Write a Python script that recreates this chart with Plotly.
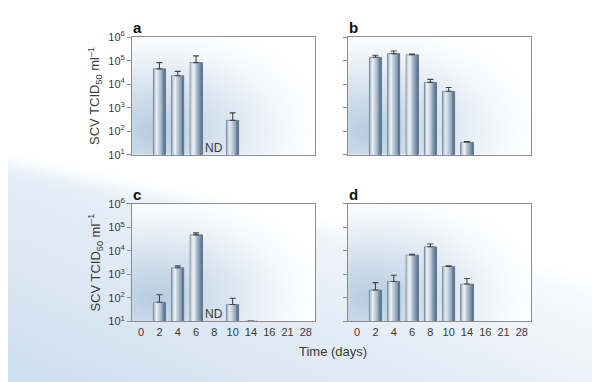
import base64
import plotly.graph_objects as go

# ---------------- data ----------------
days = ["0", "2", "4", "6", "8", "10", "14", "16", "21", "28"]
panel_names = ["a", "b", "c", "d"]

a_vals = [None, 4.5e4, 2.3e4, 8.3e4, None, 290, None, None, None, None]
a_high = [None, 8.3e4, 3.5e4, 1.6e5, None, 600, None, None, None, None]
b_vals = [None, 1.4e5, 2.0e5, 1.8e5, 1.2e4, 5.0e3, 34, None, None, None]
b_high = [None, 1.7e5, 2.6e5, 1.9e5, 1.6e4, 7.2e3, 36, None, None, None]
c_vals = [None, 65, 1.9e3, 4.8e4, None, 52, 10.4, None, None, None]
c_high = [None, 135, 2.3e3, 5.8e4, None, 97, None, None, None, None]
d_vals = [None, 215, 500, 6.7e3, 1.5e4, 2.15e3, 390, None, None, None]
d_high = [None, 445, 920, 7.1e3, 1.95e4, 2.3e3, 670, None, None, None]

nd_panels = ["a", "c"]
nd_day = "8"

y_tick_vals = [1e1, 1e2, 1e3, 1e4, 1e5, 1e6]
y_tick_text = ["10<sup>1</sup>", "10<sup>2</sup>", "10<sup>3</sup>",
               "10<sup>4</sup>", "10<sup>5</sup>", "10<sup>6</sup>"]

series = {"a": (a_vals, a_high), "b": (b_vals, b_high),
          "c": (c_vals, c_high), "d": (d_vals, d_high)}

# ---------------- style ----------------
W, H = 600, 382
FONT = "Liberation Sans, Arial, sans-serif"
TXT = "#3a3a3a"
AXC = "#8c8c8c"
# pixel boxes of the plot areas (left, right, top, bottom)
boxes = {"a": (124, 307, 22, 144), "b": (340, 523, 22, 144),
         "c": (124, 307, 195, 317), "d": (340, 523, 195, 317)}

bar_w = 0.66
stripe_stops = [(0.0, (0x80, 0x93, 0xa8)), (0.12, (0xbf, 0xcb, 0xd8)),
                (0.3, (0xf0, 0xf3, 0xf7)), (0.5, (0xc6, 0xd1, 0xdc)),
                (0.75, (0x8f, 0xa5, 0xbb)), (1.0, (0x55, 0x6f, 0x8a))]
n_stripes = 14


def stripe_color(t):
    for (t0, c0), (t1, c1) in zip(stripe_stops[:-1], stripe_stops[1:]):
        if t0 <= t <= t1:
            f = (t - t0) / (t1 - t0)
            c = [round(c0[k] + (c1[k] - c0[k]) * f) for k in range(3)]
            return "rgb(%d,%d,%d)" % tuple(c)
    return "rgb(%d,%d,%d)" % stripe_stops[-1][1]


def svg_uri(svg):
    return "data:image/svg+xml;base64," + base64.b64encode(svg.encode()).decode()


page_svg = f"""<svg xmlns='http://www.w3.org/2000/svg' width='{W}' height='{H}' viewBox='0 0 {W} {H}'>
<defs>
<linearGradient id='g' x1='0' y1='1' x2='1' y2='0.1'>
<stop offset='0' stop-color='#c9dbed'/>
<stop offset='0.5' stop-color='#e4edf6'/>
<stop offset='0.85' stop-color='#ffffff'/>
</linearGradient>
<filter id='f' x='-10%' y='-10%' width='120%' height='120%'><feGaussianBlur stdDeviation='7'/></filter>
</defs>
<rect width='{W}' height='{H}' fill='#ffffff'/>
<polygon points='-20,150 620,285 620,420 -20,420' fill='url(#g)' filter='url(#f)'/>
</svg>"""

panel_svg = """<svg xmlns='http://www.w3.org/2000/svg' width='183' height='122' viewBox='0 0 183 122' preserveAspectRatio='none'>
<defs>
<radialGradient id='r' cx='0.12' cy='0.8' r='0.95'>
<stop offset='0' stop-color='#b7cce0'/>
<stop offset='0.35' stop-color='#d3e0ed'/>
<stop offset='0.75' stop-color='#f5f8fb'/>
<stop offset='1' stop-color='#ffffff'/>
</radialGradient>
</defs>
<rect width='183' height='122' fill='url(#r)'/>
</svg>"""

fig = go.Figure()

xs = list(range(len(days)))
images = [dict(source=svg_uri(page_svg), xref="paper", yref="paper", x=0, y=1,
               sizex=1, sizey=1, sizing="stretch", layer="below")]
annotations = []

for i, p in enumerate(panel_names):
    ax_id = "" if i == 0 else str(i + 1)
    xref, yref = "x" + ax_id, "y" + ax_id
    vals, high = series[p]
    bx = [x for x, v in zip(xs, vals) if v is not None]
    bv = [v for v in vals if v is not None]
    bh = [h for h, v in zip(high, vals) if v is not None]
    err = [(h - v) if h is not None else 0 for h, v in zip(bh, bv)]
    sw = bar_w / n_stripes
    for s in range(n_stripes):
        t = (s + 0.5) / n_stripes
        fig.add_trace(go.Bar(x=bx, y=bv, xaxis=xref, yaxis=yref,
                             width=sw * 1.25, offset=-bar_w / 2 + s * sw,
                             marker=dict(color=stripe_color(t), line=dict(width=0)),
                             hoverinfo="skip", showlegend=False))
    fig.add_trace(go.Bar(x=bx, y=bv, xaxis=xref, yaxis=yref,
                         width=bar_w, offset=-bar_w / 2,
                         marker=dict(color="rgba(0,0,0,0)",
                                     line=dict(color="#6a7f94", width=0.6)),
                         error_y=dict(type="data", array=err, arrayminus=[0] * len(err),
                                      symmetric=False, color="#444444",
                                      thickness=1.1, width=3),
                         showlegend=False))

    l, r, t_, b = boxes[p]
    xdom = [l / W, r / W]
    ydom = [1 - b / H, 1 - t_ / H]
    bottom_row = p in ("c", "d")
    fig.update_layout(**{
        "xaxis" + ax_id: dict(domain=xdom, anchor=yref, range=[-0.5, len(days) - 0.5],
                              tickvals=xs, ticktext=days, showticklabels=bottom_row,
                              ticks="", showgrid=False, zeroline=False,
                              showline=True, linecolor=AXC, linewidth=1, mirror=True,
                              tickfont=dict(family=FONT, size=11, color=TXT)),
        "yaxis" + ax_id: dict(domain=ydom, anchor=xref, type="log", range=[1, 6],
                              tickvals=y_tick_vals, ticktext=y_tick_text,
                              showticklabels=p in ("a", "c"),
                              ticks="outside", ticklen=4, tickcolor=AXC, tickwidth=1,
                              showgrid=False, zeroline=False,
                              showline=True, linecolor=AXC, linewidth=1, mirror=True,
                              tickfont=dict(family=FONT, size=11, color=TXT)),
    })
    images.append(dict(source=svg_uri(panel_svg), xref="paper", yref="paper",
                       x=xdom[0], y=ydom[1], sizex=xdom[1] - xdom[0],
                       sizey=ydom[1] - ydom[0], sizing="stretch", layer="below"))
    annotations.append(dict(text="<b>%s</b>" % p, xref="paper", yref="paper",
                            x=(l - 1) / W, y=1 - (t_ - 10) / H, xanchor="left",
                            yanchor="middle", showarrow=False,
                            font=dict(family=FONT, size=15, color="#111111")))
    if p in nd_panels:
        annotations.append(dict(text="ND", xref=xref, yref=yref, x=days.index(nd_day),
                                y=1.3, showarrow=False, xanchor="center", yanchor="middle",
                                font=dict(family=FONT, size=12, color=TXT)))
    if p in ("a", "c"):
        annotations.append(dict(text="SCV TCID<sub>50</sub> ml<sup>–1</sup>",
                                xref="paper", yref="paper", x=87 / W,
                                y=1 - ((t_ + b) / 2) / H, textangle=-90,
                                xanchor="center", yanchor="middle", showarrow=False,
                                font=dict(family=FONT, size=13, color=TXT)))

annotations.append(dict(text="Time (days)", xref="paper", yref="paper",
                        x=325 / W, y=1 - 348 / H, showarrow=False,
                        xanchor="center", yanchor="middle",
                        font=dict(family=FONT, size=13, color=TXT)))

fig.update_layout(width=W, height=H, margin=dict(l=0, r=0, t=0, b=0),
                  paper_bgcolor="white", plot_bgcolor="rgba(0,0,0,0)",
                  barmode="overlay", images=images, annotations=annotations,
                  showlegend=False)

fig.write_html("out.html")
